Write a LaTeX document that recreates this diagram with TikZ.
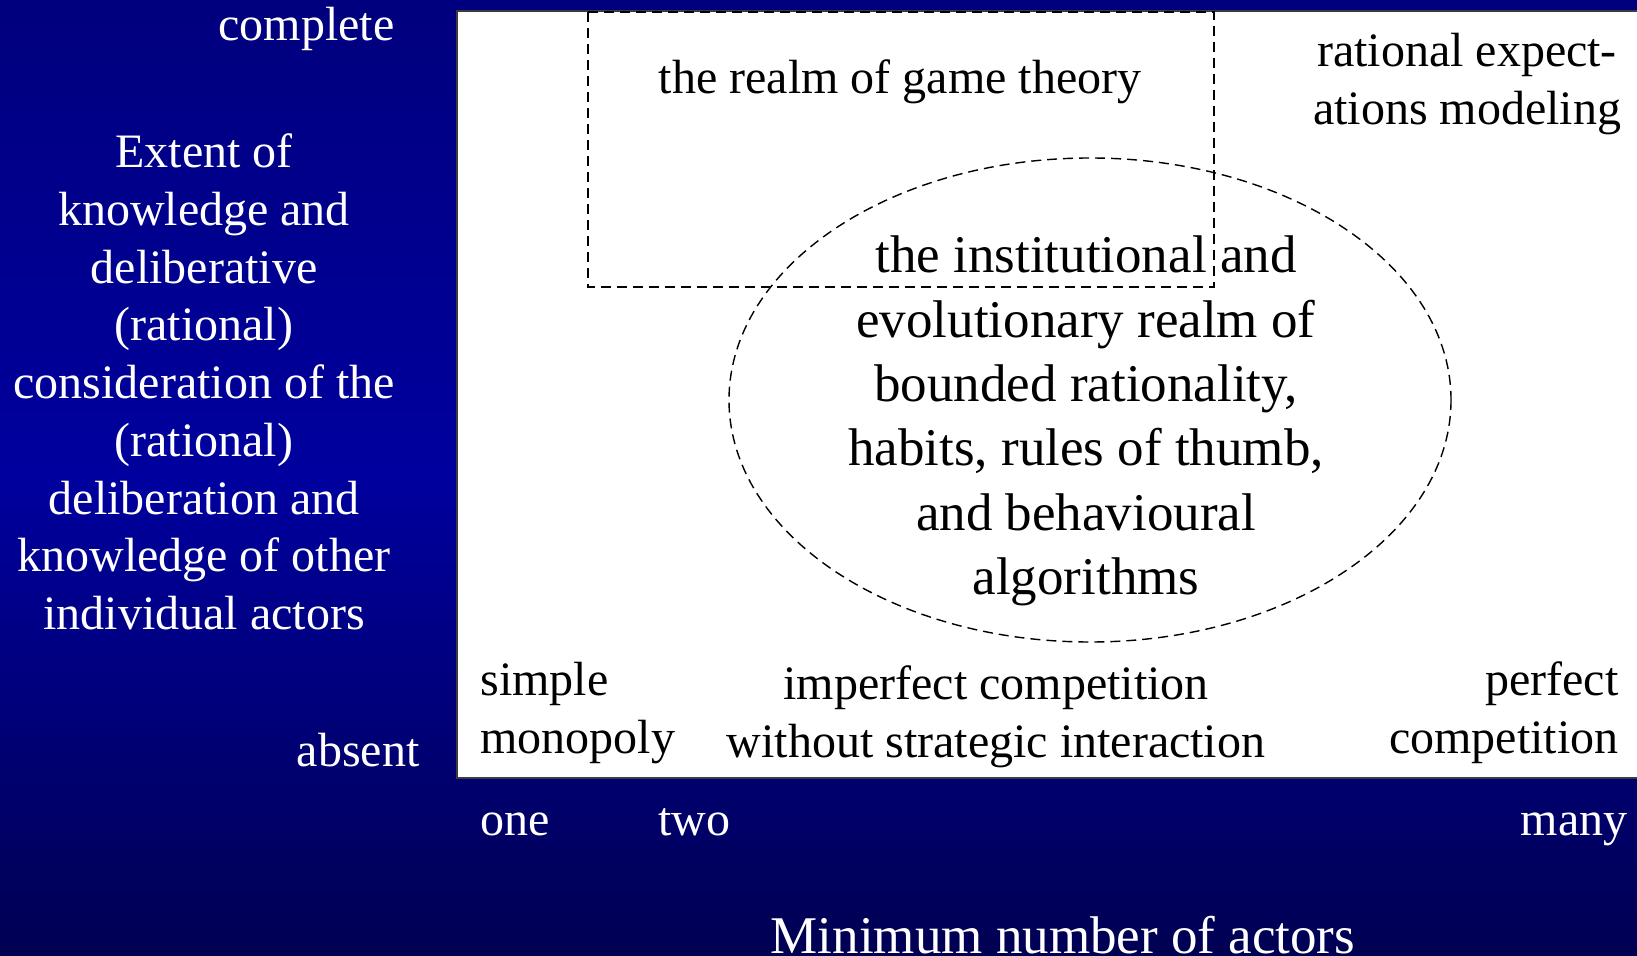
\documentclass[tikz,border=0pt]{standalone}
\usepackage{fontspec}
\setmainfont{Liberation Serif}
\usepackage{tikz}
\usetikzlibrary{positioning}
\definecolor{slidetop}{RGB}{0, 0, 126}
\definecolor{slidemid}{RGB}{0, 0, 158}
\definecolor{slidebot}{RGB}{0, 0, 82}
\definecolor{boxline}{RGB}{60, 60, 60}

\begin{document}
\begin{tikzpicture}[
  x=0.5pt, y=-0.5pt,
  axislbl/.style={text=white, inner sep=0pt, align=center,
    font=\fontsize{24}{28.85}\selectfont},
  boxlbl/.style={text=black, inner sep=0pt, align=center,
    font=\fontsize{24}{28.85}\selectfont},
  realmtext/.style={text=black, inner sep=0pt, align=center,
    font=\fontsize{26.5}{32.2}\selectfont},
  realm/.style={dash pattern=on 5pt off 3pt, line width=0.7pt, color=black}
]
  % Background
  \useasboundingbox (0,0) rectangle (1637,956);
  \shade[top color=slidetop, bottom color=slidebot, middle color=slidemid]
    (0,0) rectangle (1637,956);
  \fill[white, draw=boxline, line width=1pt] (457,11) rectangle (1650,778);

  % Vertical axis
  \node[axislbl, anchor=east] (complete) at (395,29) {complete};
  \node[axislbl] (knowledge) at (204,382) {Extent of\\knowledge and\\deliberative\\(rational)\\consideration of the\\(rational)\\deliberation and\\knowledge of other\\individual actors};
  \node[axislbl, anchor=east] (absent) at (420,750) {absent};

  % Realms
  \draw[realm] (588,12) rectangle (1214,287);
  \draw[realm] (1090,400) ellipse [x radius=361, y radius=242];
  \node[boxlbl] (game) at (900,82) {the realm of game theory};
  \node[boxlbl] (ratexp) at (1467,84) {rational expect-\\ations modeling};
  \node[realmtext] (bounded) at (1086,421) {the institutional and\\evolutionary realm of\\bounded rationality,\\habits, rules of thumb,\\and behavioural\\algorithms};

  % Market forms
  \node[boxlbl, anchor=west, align=left] (mono) at (480,713) {simple\\monopoly};
  \node[boxlbl] (imperf) at (996,717) {imperfect competition\\without strategic interaction};
  \node[boxlbl, anchor=east, align=right] (perf) at (1619,713) {perfect\\competition};

  % Horizontal axis
  \node[axislbl, anchor=base west] (one) at (480,835) {one};
  \node[axislbl, anchor=base west] (two) at (658,835) {two};
  \node[axislbl, anchor=base east] (many) at (1628,835) {many};
  \node[axislbl, anchor=base, font=\fontsize{26.5}{32}\selectfont] (actors) at (1063,953) {Minimum number of actors};
\end{tikzpicture}
\end{document}
